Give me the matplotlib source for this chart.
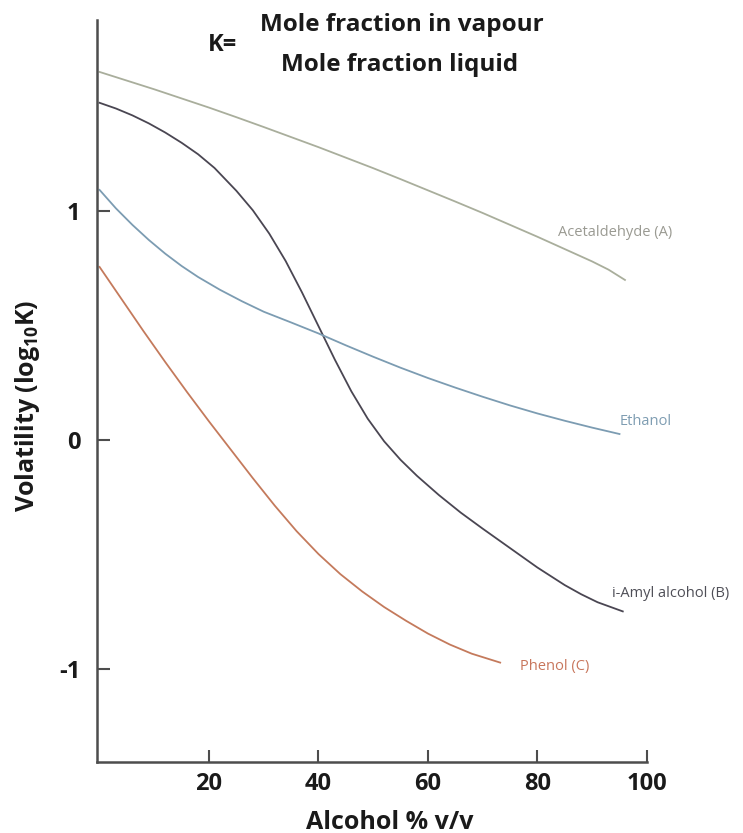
import matplotlib
matplotlib.use('Agg')
import matplotlib.pyplot as plt

plt.rcParams['font.family'] = ['Open Sans', 'DejaVu Sans']
plt.rcParams['mathtext.fontset'] = 'custom'
plt.rcParams['mathtext.rm'] = 'Open Sans:bold'
plt.rcParams['mathtext.it'] = 'Open Sans:bold'
plt.rcParams['mathtext.bf'] = 'Open Sans:bold'

# values (alcohol % v/v, log10 K)
acet_x = [0, 5, 10, 15, 20, 25, 30, 35, 40, 45, 50, 55, 60, 65, 70, 75, 80, 85, 90, 93, 96]
acet_y = [1.61, 1.572, 1.534, 1.494, 1.454, 1.412, 1.369, 1.325, 1.281, 1.235, 1.189,
          1.141, 1.092, 1.043, 0.993, 0.941, 0.889, 0.835, 0.781, 0.745, 0.70]

amyl_x = [0, 3, 6, 9, 12, 15, 18, 21, 25, 28, 31, 34, 37, 40, 43, 46, 49, 52, 55, 58,
          62, 66, 70, 75, 80, 85, 88, 91, 95.6]
amyl_y = [1.475, 1.45, 1.42, 1.385, 1.345, 1.30, 1.25, 1.19, 1.09, 1.005, 0.903, 0.783,
          0.645, 0.498, 0.351, 0.213, 0.093, -0.006, -0.087, -0.157, -0.241, -0.318, -0.388,
          -0.473, -0.558, -0.635, -0.675, -0.71, -0.75]

eth_x = [0, 3, 6, 9, 12, 15, 18, 22, 26, 30, 35, 40, 45, 50, 55, 60, 65, 70, 75, 80, 85,
         90, 95]
eth_y = [1.094, 1.013, 0.941, 0.875, 0.815, 0.761, 0.713, 0.657, 0.607, 0.561, 0.514,
         0.466, 0.414, 0.364, 0.316, 0.271, 0.229, 0.189, 0.151, 0.116, 0.084, 0.054, 0.026]

phen_x = [0, 4, 8, 12, 16, 20, 24, 28, 32, 36, 40, 44, 48, 52, 56, 60, 64, 68, 73.2]
phen_y = [0.757, 0.617, 0.477, 0.341, 0.209, 0.081, -0.043, -0.167, -0.287, -0.399,
          -0.499, -0.587, -0.663, -0.731, -0.791, -0.847, -0.895, -0.935, -0.974]

x_ticks = [20, 40, 60, 80, 100]
y_ticks = [-1, 0, 1]

axis_col = '#4d4d4d'
text_col = '#1a1a1a'

fig = plt.figure(figsize=(7.43, 8.33), dpi=100)
ax = fig.add_axes([0.1306, 0.0852, 0.740, 0.891])

ax.plot(acet_x, acet_y, color='#a9ae9c', lw=1.3)
ax.plot(amyl_x, amyl_y, color='#4a4652', lw=1.3)
ax.plot(eth_x, eth_y, color='#7c9cb2', lw=1.3)
ax.plot(phen_x, phen_y, color='#c47a5c', lw=1.3)

lab_size = 10.5
ax.text(83.7, 0.906, 'Acetaldehyde (A)', color='#9a9a92', fontsize=lab_size, va='center', ha='left')
ax.text(95.1, 0.079, 'Ethanol', color='#7f9db2', fontsize=lab_size, va='center', ha='left')
ax.text(93.6, -0.67, 'i-Amyl alcohol (B)', color='#4f4f57', fontsize=lab_size, va='center',
        ha='left', clip_on=False)
ax.text(76.8, -0.993, 'Phenol (C)', color='#c8765c', fontsize=lab_size, va='center', ha='left')

ax.set_xlim(-0.46, 100)
ax.set_ylim(-1.409, 1.838)
ax.set_xticks(x_ticks)
ax.set_yticks(y_ticks)
ax.set_xticklabels([str(t) for t in x_ticks], fontweight='bold')
ax.set_yticklabels([str(t) for t in y_ticks], fontweight='bold')
ax.tick_params(direction='in', length=9, width=1.5, color=axis_col, labelsize=17,
               labelcolor=text_col)
ax.tick_params(axis='x', pad=7)
ax.tick_params(axis='y', pad=12)

for s in ['top', 'right']:
    ax.spines[s].set_visible(False)
for s in ['left', 'bottom']:
    ax.spines[s].set_color(axis_col)
    ax.spines[s].set_linewidth(1.8)

ax.set_xlabel('Alcohol % v/v', fontsize=18, fontweight='bold', color=text_col)
ax.xaxis.set_label_coords(0.533, -0.064)
ax.set_ylabel(r'Volatility (log$_{10}$K)', fontsize=18, fontweight='bold', color=text_col)
ax.yaxis.set_label_coords(-0.10, 0.48)

fig.text(223 / 743, 1 - 45 / 833, 'K=', fontsize=17, fontweight='bold', ha='center',
         va='center', color=text_col)
fig.text(402 / 743, 1 - 25 / 833, 'Mole fraction in vapour', fontsize=17.5, fontweight='bold',
         ha='center', va='center', color=text_col)
fig.text(400 / 743, 1 - 65 / 833, 'Mole fraction liquid', fontsize=17.5, fontweight='bold',
         ha='center', va='center', color=text_col)

fig.savefig('out.png', dpi=100)
